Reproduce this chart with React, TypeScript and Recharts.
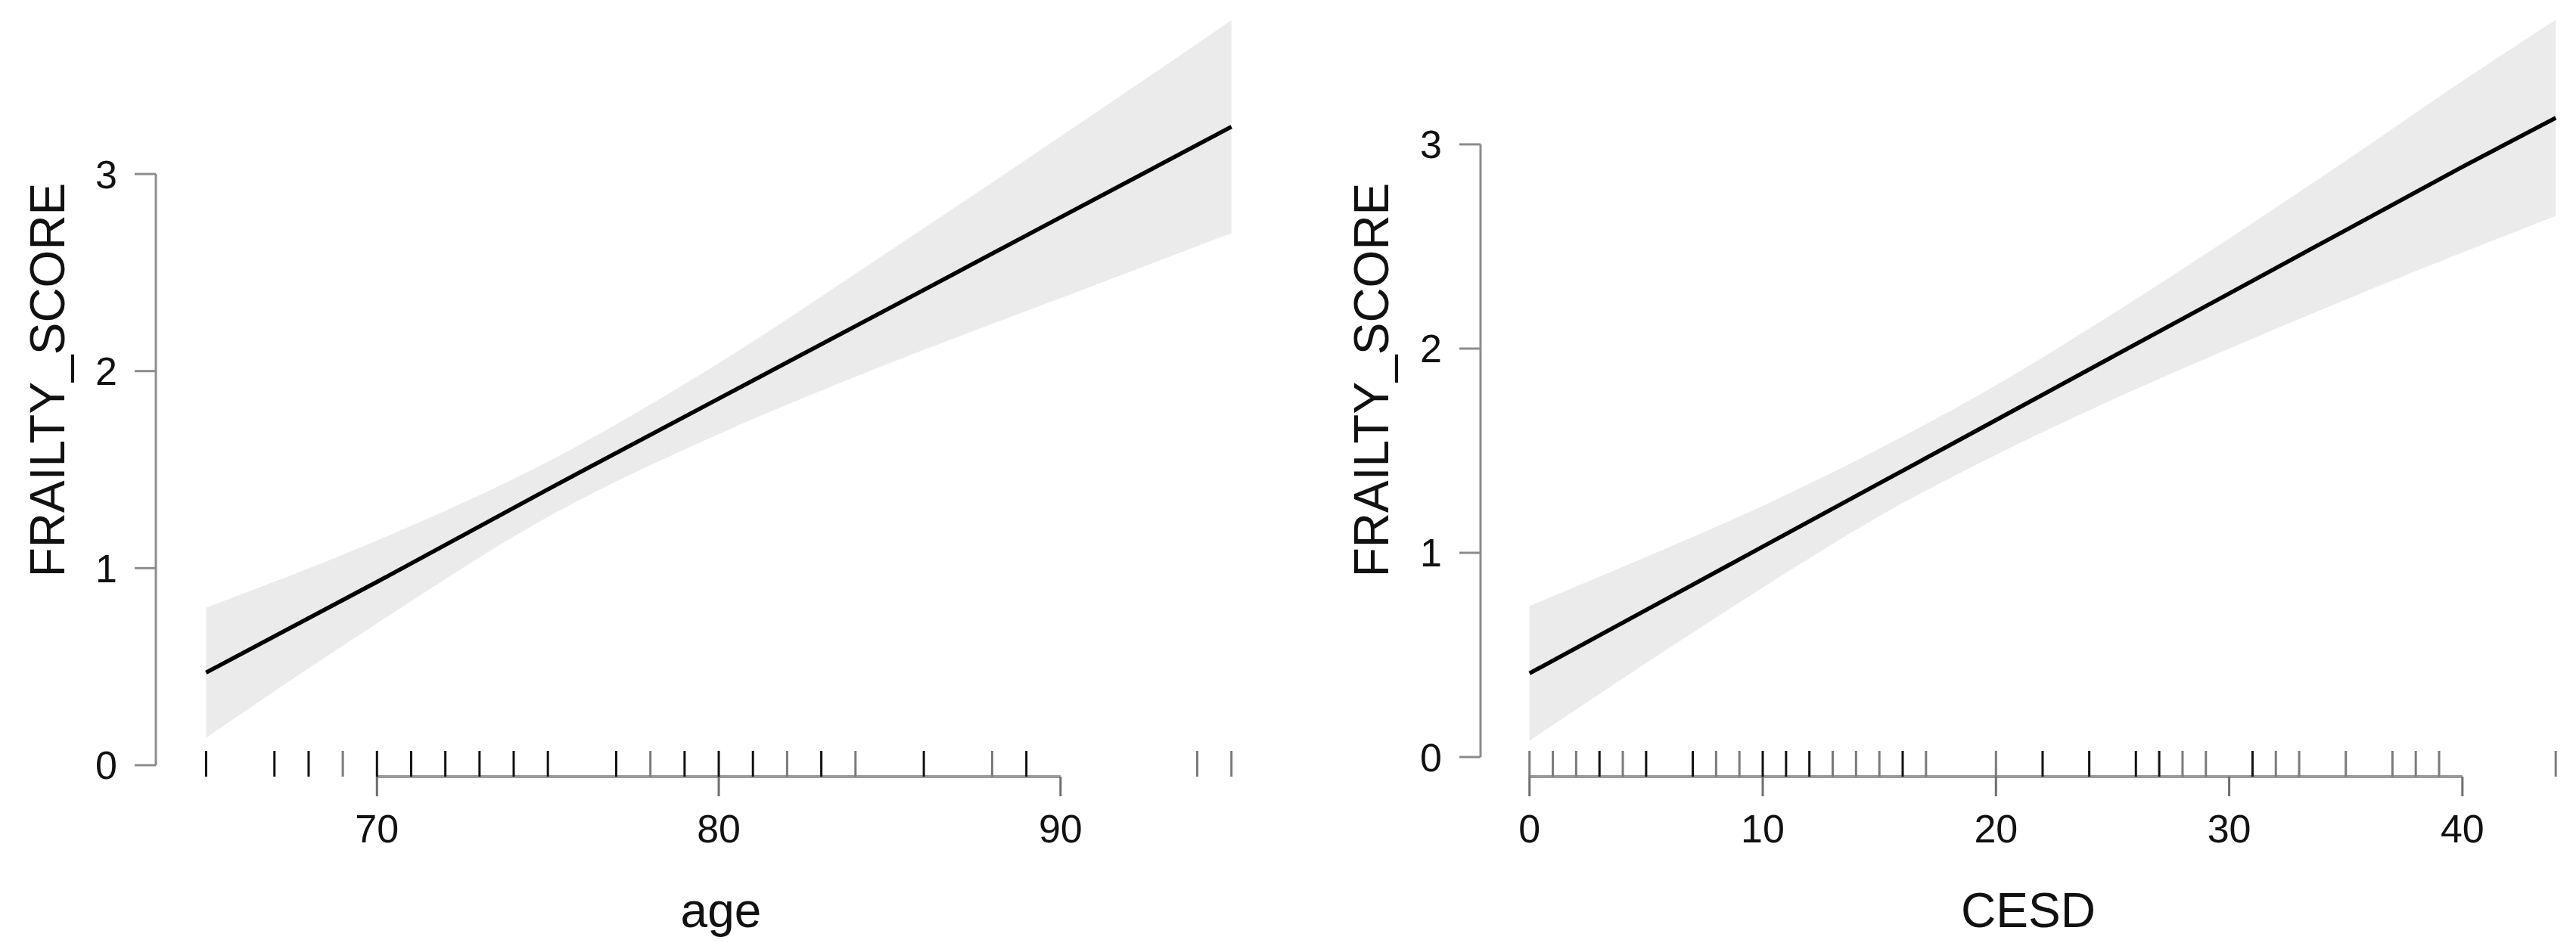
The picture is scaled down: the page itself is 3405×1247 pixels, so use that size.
import React from "react";
import {
  ComposedChart,
  Area,
  Line,
  Scatter,
  XAxis,
  YAxis,
  ReferenceLine,
} from "recharts";

// left panel: FRAILTY_SCORE vs age
const ageX = [65, 70, 75, 80, 85, 90, 95];
const ageFit = [0.47, 0.93, 1.4, 1.86, 2.32, 2.78, 3.24];
const ageLower = [0.14, 0.72, 1.26, 1.68, 2.04, 2.37, 2.7];
const ageUpper = [0.8, 1.14, 1.54, 2.04, 2.61, 3.19, 3.78];
const ageRug = [65, 67, 68, 69, 70, 71, 72, 73, 74, 75, 77, 78, 79, 80, 81, 82, 83, 84, 86, 88, 89, 94, 95];
const ageRugLight = [69, 78, 82, 84, 88, 94, 95];
const ageTicks = [70, 80, 90];

// right panel: FRAILTY_SCORE vs CESD
const cesdX = [0, 5, 10, 15, 20, 25, 30, 35, 40, 44];
const cesdFit = [0.41, 0.72, 1.03, 1.34, 1.65, 1.96, 2.27, 2.58, 2.89, 3.13];
const cesdLower = [0.08, 0.46, 0.83, 1.18, 1.48, 1.75, 2.0, 2.24, 2.47, 2.65];
const cesdUpper = [0.74, 0.98, 1.23, 1.51, 1.82, 2.17, 2.54, 2.92, 3.31, 3.61];
const cesdRug = [0, 1, 2, 3, 4, 5, 7, 8, 9, 10, 11, 12, 13, 14, 15, 16, 17, 20, 22, 24, 26, 27, 28, 29, 31, 32, 33, 35, 37, 38, 39, 44];
const cesdRugLight = [0, 1, 2, 4, 8, 9, 13, 14, 15, 17, 20, 28, 29, 32, 33, 35, 37, 38, 39, 44];
const cesdTicks = [0, 10, 20, 30, 40];

const yTicks = [0, 1, 2, 3];

const FONT = '"Liberation Sans", Arial, Helvetica, sans-serif';
const TEXT = "#111";
const AXIS = "#8c8c8c";

type PanelProps = {
  left: number;
  width: number;
  axisWidth: number;
  xDomain: [number, number];
  yDomain: [number, number];
  xs: number[];
  fit: number[];
  lower: number[];
  upper: number[];
  rug: number[];
  rugLight: number[];
  xTicks: number[];
  xTitle: string;
  yTitleX: number;
};

function Panel(p: PanelProps) {
  const band = p.xs.map((x, i) => ({ x, fit: p.fit[i], lower: p.lower[i], upper: p.upper[i] }));
  const rugData = p.rug.map((x) => ({ x, y: p.yDomain[0], light: p.rugLight.includes(x) }));
  const xMin = p.xDomain[0];
  const yMin = p.yDomain[0];

  return (
    <div style={{ position: "absolute", left: p.left, top: 0 }}>
      <ComposedChart
        width={p.width}
        height={1247}
        margin={{ top: 0, right: 0, bottom: 0, left: 0 }}
      >
        <XAxis
          type="number"
          dataKey="x"
          domain={p.xDomain}
          allowDataOverflow
          ticks={p.xTicks}
          interval={0}
          height={220}
          axisLine={false}
          tickSize={26}
          tickMargin={24}
          tickLine={{ stroke: "#6e6e6e", strokeWidth: 3 }}
          tick={{ fontSize: 52, fill: TEXT, fontFamily: FONT }}
          label={{
            content: (props: any) => {
              const vb = props.viewBox || {};
              return (
                <text
                  x={vb.x + vb.width / 2}
                  y={vb.y + 199}
                  textAnchor="middle"
                  fontSize={64}
                  fontFamily={FONT}
                  fill={TEXT}
                >
                  {p.xTitle}
                </text>
              );
            },
          }}
        />
        <YAxis
          type="number"
          dataKey="y"
          domain={p.yDomain}
          allowDataOverflow
          ticks={yTicks}
          interval={0}
          width={p.axisWidth}
          axisLine={false}
          tickSize={28}
          tickMargin={23}
          tickLine={{ stroke: AXIS, strokeWidth: 3 }}
          tick={{ fontSize: 52, fill: TEXT, fontFamily: FONT }}
          label={{
            content: (props: any) => {
              const vb = props.viewBox || {};
              const cy = vb.y + vb.height / 2 - 11;
              return (
                <text
                  x={p.yTitleX}
                  y={cy}
                  transform={`rotate(-90 ${p.yTitleX} ${cy})`}
                  textAnchor="middle"
                  fontSize={64}
                  fontFamily={FONT}
                  fill={TEXT}
                >
                  FRAILTY_SCORE
                </text>
              );
            },
          }}
        />
        <Area
          data={band}
          type="monotone"
          dataKey={(d: any) => [d.lower, d.upper]}
          stroke="none"
          fill="#ebebeb"
          fillOpacity={1}
          isAnimationActive={false}
        />
        <Line
          data={band}
          type="linear"
          dataKey="fit"
          stroke="#000"
          strokeWidth={5.5}
          dot={false}
          activeDot={false}
          isAnimationActive={false}
        />
        <ReferenceLine
          segment={[{ x: xMin, y: 0 }, { x: xMin, y: 3 }]}
          stroke={AXIS}
          strokeWidth={3}
          ifOverflow="visible"
        />
        <ReferenceLine
          segment={[{ x: p.xTicks[0], y: yMin }, { x: p.xTicks[p.xTicks.length - 1], y: yMin }]}
          stroke="#9a9a9a"
          strokeWidth={4}
          ifOverflow="visible"
        />
        <Scatter
          data={rugData}
          dataKey="y"
          isAnimationActive={false}
          shape={(s: any) => (
            <line
              x1={s.cx}
              x2={s.cx}
              y1={s.cy}
              y2={s.cy - 34}
              stroke={s.payload && s.payload.light ? "#7a7a7a" : "#111"}
              strokeWidth={3}
            />
          )}
        />
      </ComposedChart>
    </div>
  );
}

export default function App() {
  return (
    <div
      style={{
        position: "absolute",
        left: 0,
        top: 0,
        width: 3405,
        height: 1247,
        overflow: "hidden",
        background: "#fff",
      }}
    >
      <Panel
        left={0}
        width={1700}
        axisWidth={206}
        xDomain={[63.53, 96.6]}
        yDomain={[-0.058, 3.883]}
        xs={ageX}
        fit={ageFit}
        lower={ageLower}
        upper={ageUpper}
        rug={ageRug}
        rugLight={ageRugLight}
        xTicks={ageTicks}
        xTitle="age"
        yTitleX={85}
      />
      <Panel
        left={1700}
        width={1705}
        axisWidth={257}
        xDomain={[-2.1, 44.87]}
        yDomain={[-0.096, 3.707]}
        xs={cesdX}
        fit={cesdFit}
        lower={cesdLower}
        upper={cesdUpper}
        rug={cesdRug}
        rugLight={cesdRugLight}
        xTicks={cesdTicks}
        xTitle="CESD"
        yTitleX={135}
      />
    </div>
  );
}
